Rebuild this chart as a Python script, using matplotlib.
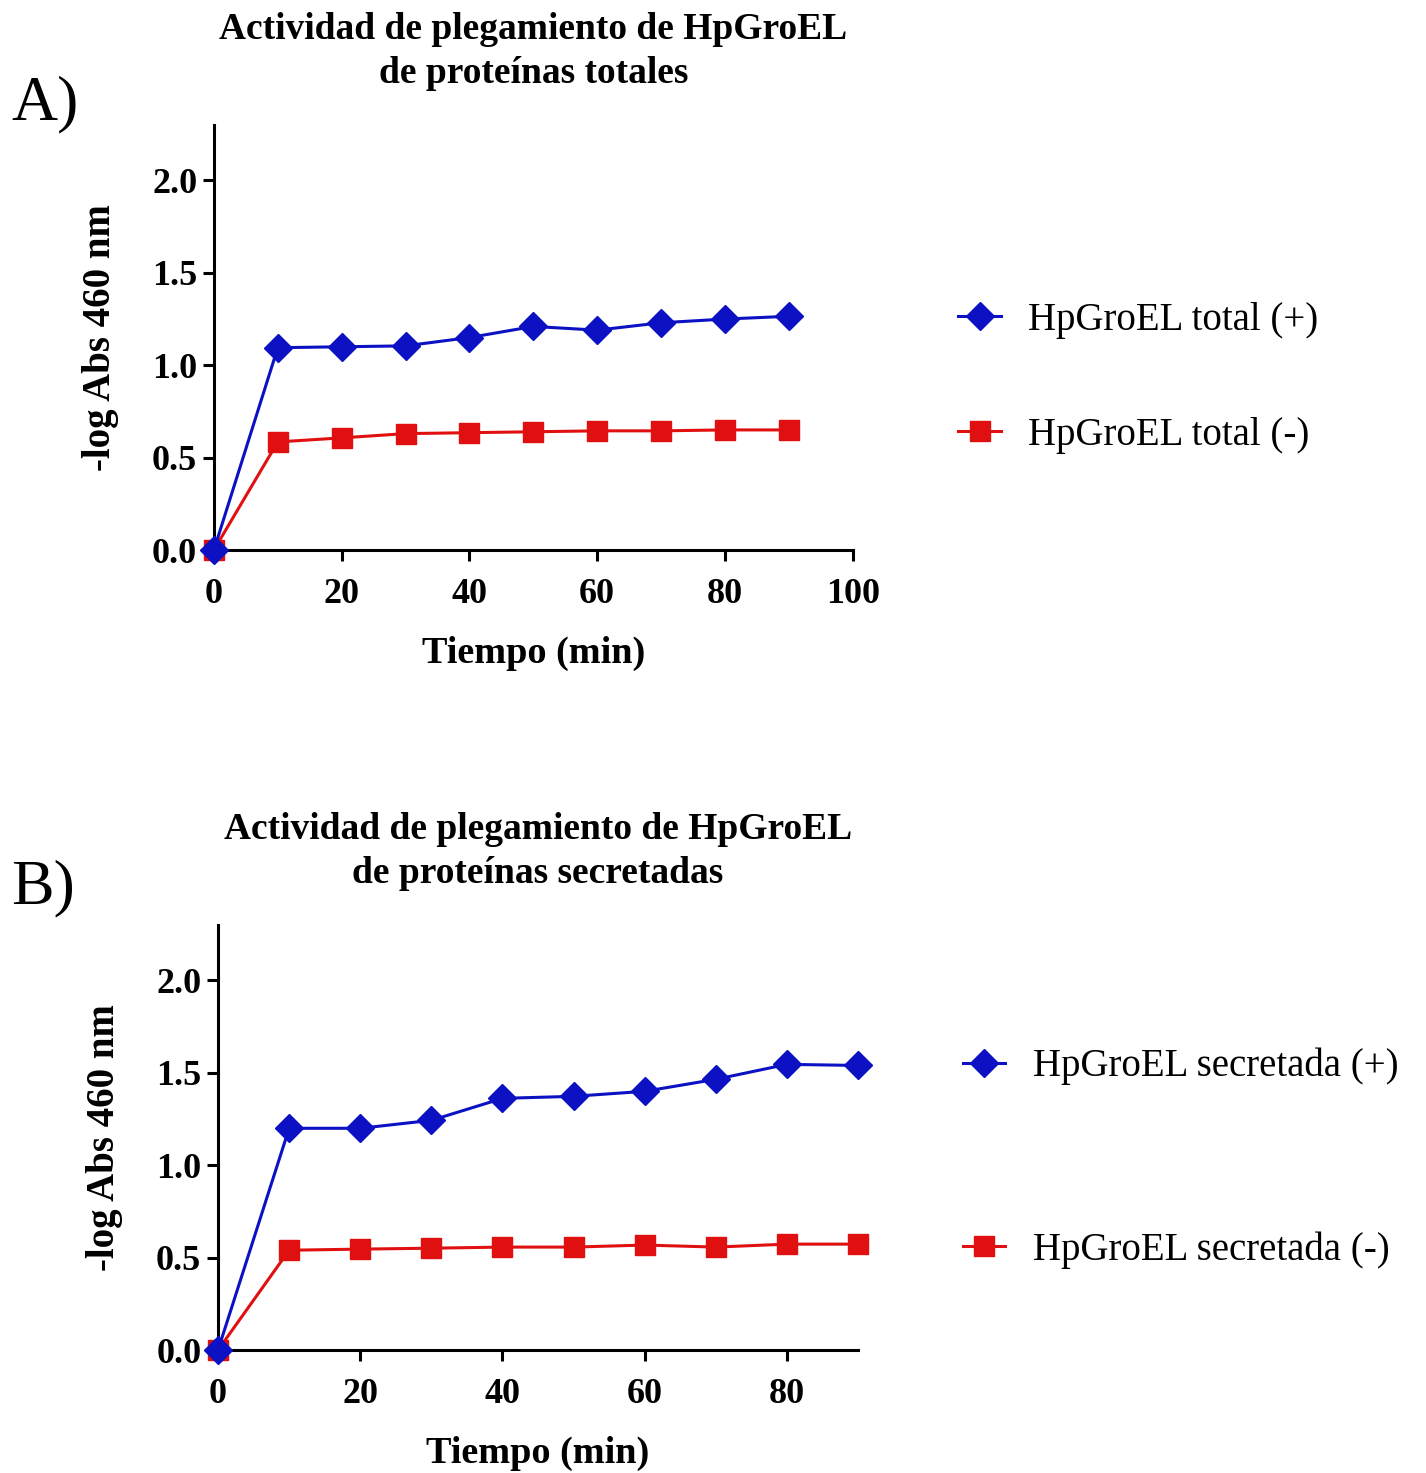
import numpy as np
import matplotlib.pyplot as plt

# Datos
tiempo = [0, 10, 20, 30, 40, 50, 60, 70, 80, 90]

total_pos = [0.0, 1.095, 1.10, 1.105, 1.15, 1.21, 1.19, 1.23, 1.25, 1.265]
total_neg = [0.0, 0.585, 0.607, 0.63, 0.635, 0.64, 0.645, 0.645, 0.65, 0.65]

secr_pos = [0.0, 1.20, 1.20, 1.243, 1.362, 1.373, 1.40, 1.465, 1.546, 1.54]
secr_neg = [0.0, 0.54, 0.546, 0.551, 0.557, 0.557, 0.568, 0.557, 0.573, 0.573]

yticks = [0.0, 0.5, 1.0, 1.5, 2.0]
xticks_a = [0, 20, 40, 60, 80, 100]
xticks_b = [0, 20, 40, 60, 80]

serif = ['Liberation Serif', 'DejaVu Serif']
plt.rcParams['font.family'] = serif

fig = plt.figure(figsize=(14.26, 14.73), dpi=100)

ax1 = fig.add_axes([0.150, 0.6266, 0.448, 0.2885])
ax2 = fig.add_axes([0.1529, 0.0835, 0.4488, 0.2885])


def estilo(ax, xticks, xmax, titulo):
    for s in ['top', 'right']:
        ax.spines[s].set_visible(False)
    for s in ['left', 'bottom']:
        ax.spines[s].set_linewidth(2.2)
    ax.set_xlim(0, xmax)
    ax.set_ylim(0, 2.3)
    ax.set_xticks(xticks)
    ax.set_yticks(yticks)
    ax.set_yticklabels(['%.1f' % v for v in yticks])
    ax.tick_params(width=2.2, length=8, labelsize=26, pad=4)
    ax.tick_params(axis='x', pad=12)
    for t in ax.get_xticklabels() + ax.get_yticklabels():
        t.set_fontweight('bold')
    ax.set_xlabel('Tiempo (min)', fontsize=27.5, fontweight='bold', labelpad=18)
    ax.set_ylabel('-log Abs 460 nm', fontsize=28, fontweight='bold', labelpad=24)
    ax.set_title(titulo, fontsize=27, fontweight='bold', pad=30, linespacing=1.35)
    ax.margins(0)


ax1.plot(tiempo, total_pos, color='#0c12c4', lw=2.2, marker='D', ms=14,
         label='HpGroEL total (+)', clip_on=False, zorder=4)
ax1.plot(tiempo, total_neg, color='#e01010', lw=2.2, marker='s', ms=14,
         label='HpGroEL total (-)', clip_on=False, zorder=3)
estilo(ax1, xticks_a, 100, 'Actividad de plegamiento de HpGroEL\nde proteínas totales')
ax1.legend(loc='center left', bbox_to_anchor=(1.141, 0.405), frameon=False,
           fontsize=28, labelspacing=2.0, handlelength=1.1, handletextpad=0.7,
           borderaxespad=0)

ax2.plot(tiempo, secr_pos, color='#0c12c4', lw=2.2, marker='D', ms=14,
         label='HpGroEL secretada (+)', clip_on=False, zorder=4)
ax2.plot(tiempo, secr_neg, color='#e01010', lw=2.2, marker='s', ms=14,
         label='HpGroEL secretada (-)', clip_on=False, zorder=3)
estilo(ax2, xticks_b, 90, 'Actividad de plegamiento de HpGroEL\nde proteínas secretadas')
ax2.legend(loc='center left', bbox_to_anchor=(1.139, 0.451), frameon=False,
           fontsize=28, labelspacing=3.75, handlelength=1.1, handletextpad=0.7,
           borderaxespad=0)

fig.text(0.008, 0.929, 'A)', fontsize=46, va='center', ha='left')
fig.text(0.008, 0.397, 'B)', fontsize=46, va='center', ha='left')

fig.savefig('out.png', dpi=100, facecolor='white')
